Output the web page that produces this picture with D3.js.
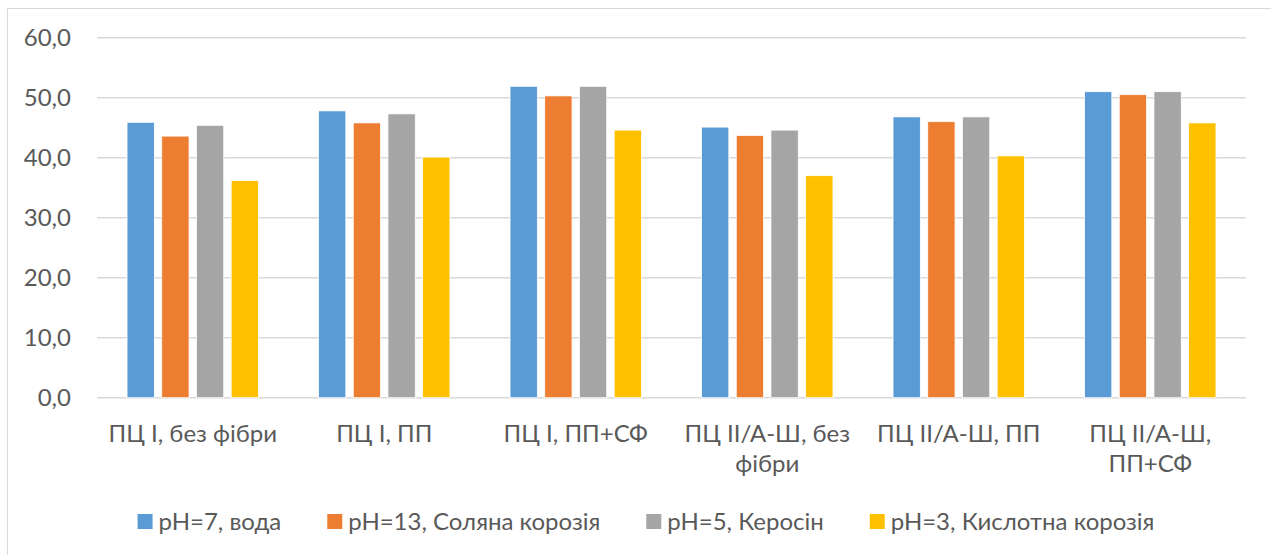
<!DOCTYPE html>
<html>
<head>
<meta charset="utf-8">
<script src="https://cdn.jsdelivr.net/npm/d3@7"></script>
<style>
  html, body { margin: 0; padding: 0; background: #fff; }
  svg { display: block; }
  text { font-family: Lato, "Noto Sans", sans-serif; fill: #595959; }
</style>
</head>
<body>
<svg id="chart" width="1271" height="555"></svg>
<script>
// Categories (mix composition)
const categories = [
  "ПЦ І, без фібри",
  "ПЦ І, ПП",
  "ПЦ І, ПП+СФ",
  "ПЦ ІІ/А-Ш, без фібри",
  "ПЦ ІІ/А-Ш, ПП",
  "ПЦ ІІ/А-Ш, ПП+СФ"
];

// Series names (exposure environment)
const seriesNames = [
  "pH=7, вода",
  "pH=13, Соляна корозія",
  "pH=5, Керосін",
  "pH=3, Кислотна корозія"
];

// Values per series, one per category
const water    = [45.9, 47.8, 51.9, 45.1, 46.8, 51.0];
const alkaline = [43.6, 45.8, 50.3, 43.7, 46.0, 50.5];
const kerosene = [45.4, 47.3, 51.9, 44.6, 46.8, 51.0];
const acid     = [36.2, 40.1, 44.6, 37.0, 40.3, 45.8];

const yTicks = [0, 10, 20, 30, 40, 50, 60];

const colors = ["#5B9BD5", "#ED7D31", "#A5A5A5", "#FFC000"];
const seriesValues = [water, alkaline, kerosene, acid];

const svg = d3.select("#chart");
const FONT = 24;

// Outer chart frame
svg.append("rect")
  .attr("x", 7.5).attr("y", 8.5)
  .attr("width", 1300).attr("height", 600)
  .attr("fill", "none").attr("stroke", "#D9D9D9").attr("stroke-width", 1);

const plot = { left: 97, right: 1246, top: 37.7, bottom: 397.7 };

const x = d3.scaleBand()
  .domain(categories)
  .range([plot.left, plot.right])
  .paddingInner(0).paddingOuter(0);

const groupWidth = 131.4;
const xs = d3.scaleBand()
  .domain(d3.range(seriesNames.length))
  .range([-groupWidth / 2, groupWidth / 2])
  .paddingInner(0.2143).paddingOuter(0);

const y = d3.scaleLinear().domain([0, 60]).range([plot.bottom, plot.top]);

// Horizontal gridlines
svg.append("g")
  .selectAll("line")
  .data(yTicks)
  .join("line")
  .attr("x1", plot.left).attr("x2", plot.right)
  .attr("y1", d => y(d)).attr("y2", d => y(d))
  .attr("stroke", "#D9D9D9").attr("stroke-width", 1.5);

// Y axis labels
const fmt = d => d.toFixed(1).replace(".", ",");
svg.append("g")
  .selectAll("text")
  .data(yTicks)
  .join("text")
  .attr("x", 71)
  .attr("y", d => y(d))
  .attr("dy", "0.35em")
  .attr("text-anchor", "end")
  .style("font-size", FONT + "px")
  .text(fmt);

// Bars
const barLayer = svg.append("g");
seriesValues.forEach((vals, si) => {
  barLayer.append("g")
    .selectAll("rect")
    .data(vals.map((v, ci) => ({ v, c: categories[ci] })))
    .join("rect")
    .attr("x", d => x(d.c) + x.bandwidth() / 2 + xs(si))
    .attr("width", xs.bandwidth())
    .attr("y", d => y(d.v))
    .attr("height", d => y(0) - y(d.v))
    .attr("fill", colors[si])
    .attr("stroke", "#ffffff")
    .attr("stroke-width", 0.75);
});

// Category labels, wrapped to the band width
const catG = svg.append("g");
categories.forEach(c => {
  const cx = x(c) + x.bandwidth() / 2;
  const t = catG.append("text")
    .attr("x", cx)
    .attr("y", 441.5)
    .attr("text-anchor", "middle")
    .style("font-size", FONT + "px");
  const words = c.split(" ");
  let line = [];
  let tspan = t.append("tspan").attr("x", cx).attr("dy", 0);
  words.forEach(w => {
    line.push(w);
    tspan.text(line.join(" "));
    if (tspan.node().getComputedTextLength() > x.bandwidth() - 8 && line.length > 1) {
      line.pop();
      tspan.text(line.join(" "));
      line = [w];
      tspan = t.append("tspan")
        .attr("x", cx)
        .attr("dy", 30)
        .text(w);
    }
  });
});

// Legend
const legend = svg.append("g");
const sq = 15, sqGap = 6, itemGap = 46;
const items = seriesNames.map((name, i) => {
  const g = legend.append("g");
  g.append("rect").attr("width", sq).attr("height", sq).attr("y", -sq / 2).attr("fill", colors[i]);
  const tx = g.append("text")
    .attr("x", sq + sqGap).attr("y", 0).attr("dy", "0.35em")
    .style("font-size", FONT + "px")
    .text(name);
  return { g, w: sq + sqGap + tx.node().getComputedTextLength() };
});
const totalW = d3.sum(items, d => d.w) + itemGap * (items.length - 1);
let lx = 646 - totalW / 2;
items.forEach(it => {
  it.g.attr("transform", `translate(${lx},521.5)`);
  lx += it.w + itemGap;
});
</script>
</body>
</html>
